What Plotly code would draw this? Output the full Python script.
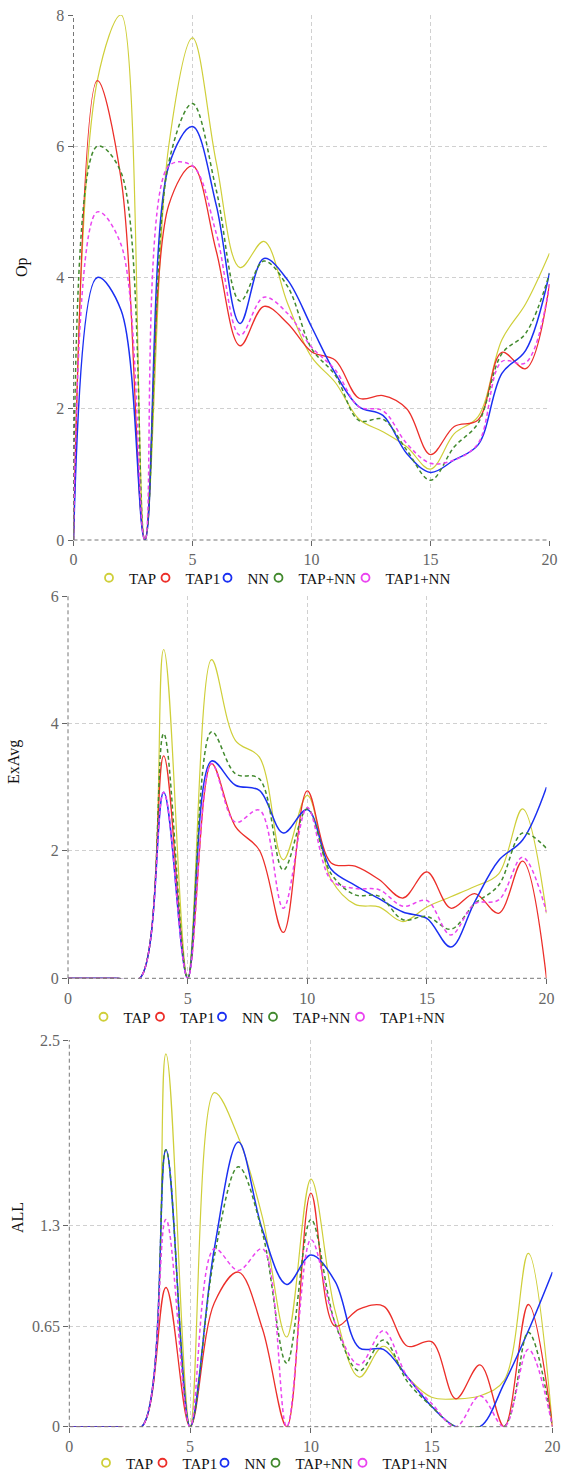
import plotly.graph_objects as go

x_vals = list(range(21))
series_names = ["TAP", "TAP1", "NN", "TAP+NN", "TAP1+NN"]

# Panel 1: Op
op_tap = [0, 7.0, 8.0, 0, 6.0, 7.65, 5.75, 4.15, 4.55, 3.6, 2.79, 2.4, 1.84, 1.65, 1.42, 1.08, 1.62, 1.88, 3.05, 3.6, 4.37]
op_tap1 = [0, 7.0, 5.5, 0, 5.1, 5.7, 4.4, 2.96, 3.56, 3.3, 2.87, 2.74, 2.16, 2.2, 2.0, 1.3, 1.73, 1.83, 2.86, 2.61, 3.9]
op_nn = [0, 4.0, 3.5, 0, 5.7, 6.3, 5.1, 3.3, 4.29, 3.96, 3.25, 2.54, 2.03, 1.9, 1.32, 1.03, 1.22, 1.45, 2.54, 2.89, 4.07]
op_tapnn = [0, 6.0, 5.6, 0, 5.75, 6.65, 5.33, 3.64, 4.25, 3.86, 2.92, 2.51, 1.82, 1.84, 1.37, 0.91, 1.42, 1.78, 2.84, 3.15, 4.06]
op_tap1nn = [0, 5.0, 4.5, 0, 5.7, 5.7, 4.67, 3.12, 3.7, 3.45, 2.94, 2.59, 2.03, 1.97, 1.47, 1.17, 1.22, 1.47, 2.72, 2.7, 3.9]

# Panel 2: ExAvg
ex_tap = [0, 0, 0, 0, 5.16, 0, 5.0, 3.73, 3.47, 1.86, 2.87, 1.55, 1.16, 1.12, 0.89, 1.12, 1.28, 1.44, 1.64, 2.66, 1.02]
ex_tap1 = [0, 0, 0, 0, 3.49, 0, 3.37, 2.38, 2.01, 0.72, 2.94, 1.81, 1.76, 1.55, 1.26, 1.67, 1.10, 1.33, 1.02, 1.84, 0]
ex_nn = [0, 0, 0, 0, 2.92, 0, 3.41, 3.03, 2.95, 2.28, 2.65, 1.71, 1.46, 1.25, 1.04, 0.94, 0.49, 1.2, 1.85, 2.17, 3.0]
ex_tapnn = [0, 0, 0, 0, 3.84, 0, 3.87, 3.21, 3.13, 1.70, 2.66, 1.64, 1.31, 1.29, 0.92, 0.97, 0.77, 1.17, 1.46, 2.28, 2.04]
ex_tap1nn = [0, 0, 0, 0, 2.92, 0, 3.37, 2.45, 2.64, 1.10, 2.68, 1.54, 1.41, 1.39, 1.13, 1.22, 0.68, 1.17, 1.23, 1.90, 1.04]

# Panel 3: ALL
all_tap = [0, 0, 0, 0, 2.41, 0, 2.16, 1.87, 1.35, 0.58, 1.60, 0.75, 0.32, 0.52, 0.32, 0.19, 0.18, 0.20, 0.30, 1.12, 0]
all_tap1 = [0, 0, 0, 0, 0.90, 0, 0.80, 1.00, 0.63, 0, 1.51, 0.65, 0.76, 0.78, 0.52, 0.55, 0.18, 0.40, 0, 0.79, 0]
all_nn = [0, 0, 0, 0, 1.79, 0, 1.15, 1.84, 1.27, 0.92, 1.11, 0.94, 0.51, 0.50, 0.32, 0.13, 0, 0, 0.28, 0.62, 1.0]
all_tapnn = [0, 0, 0, 0, 1.79, 0, 1.10, 1.68, 1.25, 0.41, 1.34, 0.67, 0.36, 0.56, 0.29, 0.13, 0, 0, 0, 0.61, 0]
all_tap1nn = [0, 0, 0, 0, 1.34, 0, 1.15, 1.01, 1.15, 0, 1.21, 0.67, 0.40, 0.62, 0.32, 0.15, 0, 0.20, 0, 0.50, 0]

panel_titles = ["Op", "ExAvg", "ALL"]
x_ticks = [0, 5, 10, 15, 20]
y_ticks_op = [0, 2, 4, 6, 8]
y_ticks_ex = [0, 2, 4, 6]
y_ticks_all = [0, 0.65, 1.3, 2.5]

panels = [
    [op_tap, op_tap1, op_nn, op_tapnn, op_tap1nn],
    [ex_tap, ex_tap1, ex_nn, ex_tapnn, ex_tap1nn],
    [all_tap, all_tap1, all_nn, all_tapnn, all_tap1nn],
]

colors = ["#cfcf3a", "#ec2f2a", "#1b30f2", "#428a2e", "#ea44f0"]
widths = [1.2, 1.3, 1.5, 1.5, 1.5]
dashes = ["solid", "solid", "solid", "4px,3px", "4px,3px"]

W, H = 561, 1472
# pixel geometry of plot areas: (x_left, x_right, y_top, y_bottom)
geom = [(73.5, 549.5, 15, 540), (68, 546.5, 596, 978.3), (69.3, 552.5, 1040, 1426.7)]
y_ranges = [[0, 8], [0, 6], [0, 2.5]]
y_ticks = [y_ticks_op, y_ticks_ex, y_ticks_all]
legend_y_px = [578, 1017, 1463]
# legend icon centre x positions (px) per panel
legend_icon_x = [
    [113.5, 170, 232, 283, 370],
    [108, 164.5, 226.5, 277.5, 364.5],
    [110.5, 167, 229, 280, 367],
]
title_pos = [(22, 267), (14, 762), (17, 1218)]

FONT = "Liberation Serif"
fig = go.Figure()

legend_layouts = {}
leg_idx = 0
for p in range(3):
    xa = "x" if p == 0 else f"x{p+1}"
    ya = "y" if p == 0 else f"y{p+1}"
    for i, name in enumerate(series_names):
        fig.add_trace(go.Scatter(
            x=x_vals, y=panels[p][i], mode="lines", name=name,
            line=dict(color=colors[i], width=widths[i], dash=dashes[i], shape="spline", smoothing=1.0),
            xaxis=xa, yaxis=ya, showlegend=False, hoverinfo="skip",
        ))
    for i, name in enumerate(series_names):
        leg_idx += 1
        key = "legend" if leg_idx == 1 else f"legend{leg_idx}"
        fig.add_trace(go.Scatter(
            x=[None], y=[None], mode="markers", name=name,
            marker=dict(symbol="circle", size=8, color="white", line=dict(width=1.8, color=colors[i])),
            xaxis=xa, yaxis=ya, showlegend=True, legend=key,
        ))
        lx = legend_icon_x[p][i] - 4.5 - 20
        legend_layouts[key] = dict(
            orientation="h", x=lx / W, xanchor="left", y=1 - legend_y_px[p] / H, yanchor="middle",
            font=dict(family=FONT, size=15, color="#111"), bgcolor="rgba(0,0,0,0)", borderwidth=0,
            itemclick=False, itemdoubleclick=False,
        )

layout = dict(
    width=W, height=H, margin=dict(l=0, r=0, t=0, b=0, autoexpand=False),
    paper_bgcolor="white", plot_bgcolor="white",
    font=dict(family=FONT, size=16, color="#666"),
    showlegend=True,
)
layout.update(legend_layouts)
for p in range(3):
    xl, xr, yt, yb = geom[p]
    xkey = "xaxis" if p == 0 else f"xaxis{p+1}"
    ykey = "yaxis" if p == 0 else f"yaxis{p+1}"
    ya = "y" if p == 0 else f"y{p+1}"
    xa = "x" if p == 0 else f"x{p+1}"
    layout[xkey] = dict(
        domain=[xl / W, xr / W], range=[0, 20], anchor=ya,
        tickvals=x_ticks, ticks="outside", ticklen=5, tickcolor="#666",
        showgrid=True, gridcolor="#d0d0d0", griddash="4px,3px", gridwidth=1,
        zeroline=False, showline=False, automargin=False,
        tickfont=dict(family=FONT, size=16, color="#666"),
    )
    layout[ykey] = dict(
        domain=[1 - yb / H, 1 - yt / H], range=y_ranges[p], anchor=xa,
        tickvals=y_ticks[p], ticks="outside", ticklen=5, tickcolor="#666",
        showgrid=True, gridcolor="#d0d0d0", griddash="4px,3px", gridwidth=1,
        zeroline=False, showline=False, automargin=False,
        tickfont=dict(family=FONT, size=16, color="#666"),
    )
fig.update_layout(**layout)

shapes = []
annotations = []
for p in range(3):
    xa = "x" if p == 0 else f"x{p+1}"
    ya = "y" if p == 0 else f"y{p+1}"
    shapes.append(dict(type="line", xref=f"{xa} domain", yref=f"{ya} domain", x0=0, x1=0, y0=0, y1=1,
                       line=dict(color="#777", width=1, dash="4px,3px")))
    shapes.append(dict(type="line", xref=f"{xa} domain", yref=f"{ya} domain", x0=0, x1=1, y0=0, y1=0,
                       line=dict(color="#777", width=1, dash="4px,3px")))
    tx, ty = title_pos[p]
    annotations.append(dict(text=panel_titles[p], xref="paper", yref="paper", x=tx / W, y=1 - ty / H,
                            xanchor="center", yanchor="middle", textangle=-90, showarrow=False,
                            font=dict(family=FONT, size=16, color="#111")))
fig.update_layout(shapes=shapes, annotations=annotations)

fig.write_html(
    "out.html",
    config={"displayModeBar": False},
    post_script="document.body.style.margin='0';document.body.style.overflow='hidden';",
)
